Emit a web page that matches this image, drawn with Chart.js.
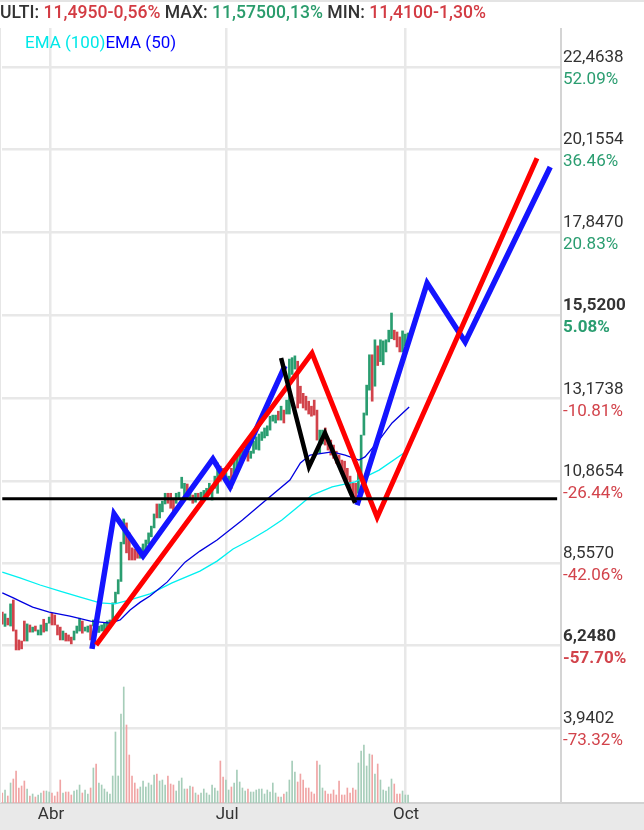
<!DOCTYPE html>
<html lang="es">
<head>
<meta charset="UTF-8">
<title>Grafico diario con EMA</title>
<script src="https://cdn.jsdelivr.net/npm/chart.js"></script>
<style>
    body {
        margin: 0;
        background: #fff;
        font-family: Roboto, sans-serif;
    }

    #wrap {
        position: relative;
        width: 644px;
        height: 830px;
    }

    #header {
        position: absolute;
        left: 0;
        top: 2px;
        font-size: 17.6px;
        font-weight: 500;
        white-space: nowrap;
        color: #333;
    }

    #legend {
        position: absolute;
        left: 25px;
        top: 32px;
        font-size: 17px;
        white-space: nowrap;
    }

    .up { color: #2a9c6c; }
    .dn { color: #d33b43; }
</style>
</head>
<body>
<div id="wrap">
    <canvas id="priceChart" width="644" height="830"></canvas>
    <div id="header">ULTI: <span class="dn">11,4950-0,56%</span> MAX: <span class="up">11,57500,13%</span> MIN: <span class="dn">11,4100-1,30%</span></div>
    <div id="legend"><span style="color:#00e8e8">EMA (100)</span><span style="color:#0000ff">EMA (50)</span></div>
</div>

<script>
    // daily bars, index 0 = mid March
    const opens = [
        7.19, 6.79, 7.02, 6.80, 7.53, 6.69, 6.41, 6.38, 6.94, 6.38,
        6.83, 6.63, 6.80, 6.55, 6.55, 6.99, 6.66, 6.88, 7.16, 7.11,
        6.83, 6.77, 6.41, 6.60, 6.55, 6.49, 6.41, 6.60, 6.66, 6.94,
        6.66, 6.63, 6.83, 6.80, 6.80, 6.62, 6.66, 6.63, 6.72, 6.75,
        6.85, 7.45, 7.70, 8.05, 9.10, 9.69, 9.41, 8.99, 8.96, 8.93,
        8.70, 8.82, 8.93, 9.10, 9.30, 9.55, 10.22, 9.83, 10.00, 10.22,
        10.52, 10.52, 10.38, 10.24, 10.38, 10.66, 10.38, 10.78, 10.33, 10.47,
        10.27, 10.52, 10.38, 10.30, 10.50, 10.55, 10.33, 10.66, 10.52, 11.28,
        11.22, 10.90, 10.70, 11.22, 11.08, 11.22, 11.30, 11.45, 11.56, 11.70,
        11.50, 11.64, 11.75, 11.73, 12.00, 12.07, 12.13, 12.29, 12.54, 12.49,
        12.82, 12.57, 12.85, 12.74, 12.74, 13.85, 14.00, 14.22, 13.52, 13.32,
        13.24, 13.10, 12.96, 13.13, 12.85, 11.64, 11.90, 12.35, 12.07, 12.01,
        11.87, 11.70, 11.59, 11.45, 11.42, 11.22, 11.00, 10.80, 10.80, 10.52,
        10.89, 12.15, 12.71, 13.41, 14.40, 13.52, 14.65, 14.21, 14.12, 14.48,
        14.76, 14.85, 15.09, 15.04, 14.90, 14.48, 14.65, 14.76
    ];
    const closes = [
        6.85, 7.14, 6.83, 7.42, 6.66, 6.13, 6.13, 6.16, 6.38, 6.86,
        6.63, 6.77, 6.66, 6.69, 6.83, 6.63, 6.88, 7.05, 6.83, 6.83,
        6.55, 6.41, 6.66, 6.38, 6.38, 6.30, 6.66, 6.80, 7.02, 6.60,
        6.77, 6.80, 6.41, 6.97, 6.62, 6.80, 6.83, 6.88, 6.94, 6.97,
        7.45, 7.75, 8.10, 9.15, 9.80, 8.85, 8.65, 8.65, 8.65, 8.70,
        8.99, 9.10, 9.21, 9.41, 9.60, 9.94, 9.83, 10.22, 10.30, 10.52,
        10.24, 10.10, 9.96, 10.52, 10.55, 10.97, 10.80, 10.50, 10.55, 10.24,
        10.52, 10.40, 10.55, 10.60, 10.66, 10.80, 10.72, 11.00, 11.37, 10.86,
        10.94, 11.10, 11.00, 10.66, 11.45, 11.58, 11.64, 11.78, 11.73, 11.42,
        11.70, 11.98, 12.10, 12.18, 12.24, 12.35, 12.41, 12.68, 12.71, 12.71,
        12.57, 12.96, 12.49, 13.13, 14.28, 14.32, 14.37, 12.91, 13.04, 12.91,
        12.85, 12.74, 12.68, 12.71, 12.01, 12.29, 12.29, 11.87, 11.73, 11.59,
        11.50, 11.36, 11.30, 11.14, 10.94, 10.89, 10.58, 10.47, 10.38, 11.08,
        12.15, 12.77, 13.55, 14.40, 13.10, 14.82, 14.10, 14.82, 14.79, 14.82,
        15.09, 15.57, 14.82, 14.62, 14.48, 15.07, 14.98, 15.01
    ];
    const volumes = [
        10, 13, 7, 20, 24, 32, 15, 17, 22, 14,
        7, 9, 6, 8, 10, 12, 12, 11, 10, 7,
        11, 23, 10, 11, 11, 8, 12, 13, 18, 10,
        13, 9, 15, 35, 39, 20, 18, 14, 11, 9,
        27, 71, 27, 89, 116, 78, 48, 27, 20, 14,
        16, 22, 16, 20, 18, 28, 29, 22, 23, 18,
        27, 19, 18, 12, 22, 25, 14, 14, 17, 16,
        10, 8, 10, 14, 10, 8, 18, 15, 12, 42,
        26, 23, 13, 16, 20, 33, 21, 15, 12, 14,
        11, 11, 13, 14, 14, 9, 13, 11, 20, 10,
        6, 6, 9, 11, 23, 42, 31, 21, 29, 23,
        15, 15, 11, 9, 42, 38, 15, 12, 9, 9,
        13, 8, 22, 8, 8, 15, 10, 15, 13, 40,
        52, 58, 37, 49, 48, 29, 39, 23, 13, 12,
        16, 24, 19, 9, 9, 12, 8, 8
    ];

    // moving averages (bar index, price)
    const ema100X = [0, 6.4, 13.7, 20.9, 28.2, 35.4, 40.8, 46.3, 53.5, 61.5, 71.6, 77.8, 83.6, 89.8, 95.9, 101.3, 107.9, 112.2, 119.5, 127.8, 136.5, 145.5];
    const ema100Y = [8.31, 8.15, 7.95, 7.78, 7.61, 7.45, 7.42, 7.53, 7.70, 8.01, 8.34, 8.62, 8.96, 9.21, 9.49, 9.77, 10.19, 10.47, 10.70, 10.84, 11.17, 11.65];
    const ema50X = [0, 4, 6.4, 11, 17, 24.5, 32, 39, 42.7, 46.3, 50, 53.5, 59.7, 66.2, 71.6, 77.8, 87, 93.4, 104.2, 108, 111.5, 119.5, 124.2, 129.2, 131.4, 136.5, 141.2, 147.4];
    const ema50Y = [7.73, 7.59, 7.50, 7.33, 7.19, 7.08, 6.94, 6.88, 6.97, 7.25, 7.47, 7.64, 8.03, 8.59, 8.90, 9.21, 9.77, 10.19, 10.89, 11.37, 11.59, 11.68, 11.59, 11.45, 11.54, 12.01, 12.49, 12.94];

    // hand drawn trend lines
    const blueAX = [32.5, 40.5, 51.0, 76.3, 82.5, 102.4];
    const blueAY = [6.16, 9.94, 8.76, 11.48, 10.70, 14.09];
    const blueBX = [128.5, 153.9, 167.7, 198.5];
    const blueBY = [10.19, 16.41, 14.76, 19.66];
    const redX = [34.0, 112.2, 135.8, 193.7];
    const redY = [6.27, 14.45, 9.85, 19.91];
    const blackX = [101, 111.1, 116.9, 127.8];
    const blackY = [14.31, 11.26, 12.21, 10.25];
    const supportX = [0, 201];
    const supportY = [10.37, 10.37];

    const monthTicks = [17.3, 81.1, 145.9];
    const monthLabels = ['Abr', 'Jul', 'Oct'];
    const priceTicks = [22.4638, 20.1554, 17.8470, 15.5200, 13.1738, 10.8654, 8.5570, 6.2480, 3.9402];
    const pctLabels = ['52.09%', '36.46%', '20.83%', '5.08%', '-10.81%', '-26.44%', '-42.06%', '-57.70%', '-73.32%'];
    const markedTicks = [15.5200, 6.2480];

    const GREEN = '#2a9d70';
    const RED = '#d2434b';

    function pts(xs, ys) {
        return xs.map((x, i) => ({ x: x, y: ys[i] }));
    }

    function trendLine(xs, ys, color, width, order) {
        return {
            type: 'line',
            data: pts(xs, ys),
            borderColor: color,
            borderWidth: width,
            pointRadius: 0,
            tension: 0,
            borderJoinStyle: 'miter',
            borderCapStyle: 'butt',
            yAxisID: 'y',
            order: order
        };
    }

    const frame = {
        id: 'frame',
        beforeDraw(chart) {
            const c = chart.ctx;
            const a = chart.chartArea;
            c.save();
            c.fillStyle = '#fff';
            c.fillRect(0, 0, chart.width, chart.height);
            c.fillStyle = '#e4e4e4';
            c.fillRect(0, 0, chart.width, 2);
            c.fillStyle = '#e9e9e9';
            c.fillRect(0, a.bottom, chart.width, chart.height - a.bottom);
            c.fillStyle = '#d2d2d2';
            c.fillRect(0, a.bottom - 1, chart.width, 2);
            c.restore();
        },
        afterDraw(chart) {
            const c = chart.ctx;
            const a = chart.chartArea;
            const ys = chart.scales.y;
            const xs = chart.scales.x;
            c.save();
            c.fillStyle = '#d4d4d4';
            c.fillRect(a.right - 1, a.top, 2, a.bottom - a.top);
            c.fillStyle = '#e6e6e6';
            c.fillRect(0, a.top, 1, a.bottom - a.top);

            c.textAlign = 'left';
            c.textBaseline = 'alphabetic';
            priceTicks.forEach((v, k) => {
                const py = ys.getPixelForValue(v);
                const strong = markedTicks.includes(v);
                c.font = (strong ? 'bold ' : '') + '17px Roboto';
                c.fillStyle = '#333';
                c.fillText(v.toFixed(4).replace('.', ','), a.right + 2, py - 5);
                c.fillStyle = pctLabels[k].startsWith('-') ? RED : GREEN;
                c.fillText(pctLabels[k], a.right + 2, py + 17);
            });

            c.font = '17px Roboto';
            c.fillStyle = '#333';
            c.textAlign = 'center';
            monthTicks.forEach((v, k) => {
                c.fillText(monthLabels[k], xs.getPixelForValue(v) + 1, a.bottom + 16);
            });
            c.restore();
        }
    };

    const candleData = opens.map((o, i) => ({ x: i, y: [o, closes[i]] }));
    const volumeData = volumes.map((v, i) => ({ x: i, y: v }));
    const isUp = i => closes[i] >= opens[i];

    const ctx = document.getElementById('priceChart').getContext('2d');
    new Chart(ctx, {
        type: 'bar',
        data: {
            datasets: [
                trendLine(supportX, supportY, '#000', 3, 0),
                trendLine(blackX, blackY, '#000', 4.5, 1),
                trendLine(redX, redY, '#ff0000', 5, 2),
                trendLine(blueAX, blueAY, '#1414ff', 5.5, 3),
                trendLine(blueBX, blueBY, '#1414ff', 5.5, 3),
                trendLine(ema50X, ema50Y, '#0000e0', 1.3, 4),
                trendLine(ema100X, ema100Y, '#00f0f0', 1.3, 4),
                {
                    type: 'bar',
                    data: candleData,
                    backgroundColor: c => isUp(c.dataIndex) ? GREEN : RED,
                    barThickness: 2,
                    grouped: false,
                    yAxisID: 'y',
                    order: 6
                },
                {
                    type: 'bar',
                    data: volumeData,
                    backgroundColor: c => isUp(c.dataIndex) ? '#a6cdb9' : '#f0a4a4',
                    barThickness: 1,
                    grouped: false,
                    yAxisID: 'yv',
                    order: 7
                }
            ]
        },
        options: {
            responsive: false,
            animation: false,
            events: [],
            layout: { padding: { top: 28, left: 2, right: 0, bottom: 0 } },
            plugins: {
                legend: { display: false },
                tooltip: { enabled: false }
            },
            scales: {
                x: {
                    type: 'linear',
                    min: -0.1,
                    max: 202.4,
                    offset: false,
                    afterBuildTicks: s => { s.ticks = monthTicks.map(v => ({ value: v })); },
                    afterFit: s => { s.height = 27; },
                    grid: { color: '#e8e8e8', lineWidth: 2.5, drawTicks: false, offset: false },
                    border: { display: false },
                    ticks: { display: false }
                },
                y: {
                    position: 'right',
                    min: 1.8418,
                    max: 23.5565,
                    afterBuildTicks: s => { s.ticks = priceTicks.map(v => ({ value: v })); },
                    afterFit: s => { s.width = 83; },
                    grid: { color: '#e8e8e8', lineWidth: 2.5, drawTicks: false },
                    border: { display: false },
                    ticks: { display: false }
                },
                yv: {
                    display: false,
                    min: 0,
                    max: 775
                }
            }
        },
        plugins: [frame]
    });
</script>
</body>
</html>
